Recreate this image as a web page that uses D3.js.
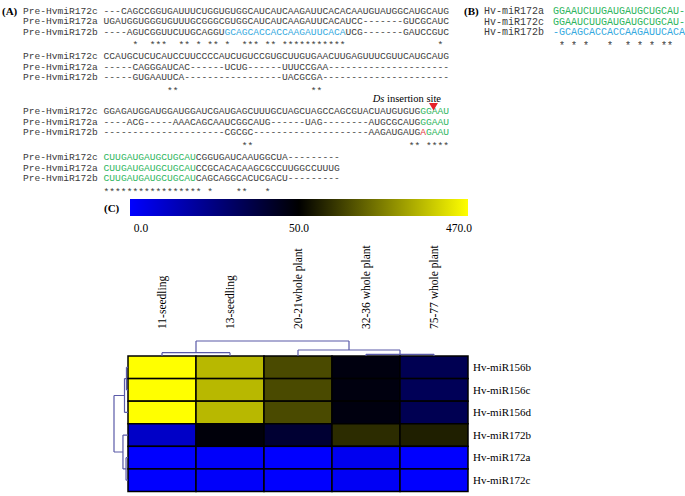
<!DOCTYPE html>
<html>
<head>
<meta charset="utf-8">
<script src="https://cdn.jsdelivr.net/npm/d3@7"></script>
<style>
  body { margin: 0; background: #fff; }
</style>
</head>
<body>
<svg id="fig"></svg>
<script>
// ---- (A) precursor alignment ----
const preLabels = ["Pre-HvmiR172c", "Pre-HvmiR172a", "Pre-HvmiR172b"];
// each row is a list of [text, colour key]  k = plain, b = blue, g = green, r = red
const preBlock1 = [
  [["---CAGCCGGUGAUUUCUGGUGUGGCAUCAUCAAGAUUCACACAAUGUAUGGCAUGCAUG", "k"]],
  [["UGAUGGUGGGUGUUUGCGGGCGUGGCAUCAUCAAGAUUCACAUCC-------GUCGCAUC", "k"]],
  [["----AGUCGGUUCUUGCAGGU", "k"], ["GCAGCACCACCAAGAUUCACA", "b"], ["UCG-------GAUCCGUC", "k"]]
];
const preBlock2 = [
  [["CCAUGCUCUCAUCCUUCCCCAUCUGUCCGUGCUUGUGAACUUGAGUUUCGUUCAUGCAUG", "k"]],
  [["-----CAGGGAUCAC------UCUG------UUUCCGAA---------------------", "k"]],
  [["-----GUGAAUUCA-----------------UACGCGA----------------------", "k"]]
];
const preBlock3 = [
  [["GGAGAUGGAUGGAUGGAUCGAUGAGCUUUGCUAGCUAGCCAGCGUACUAUGUGUG", "k"], ["GGAAU", "g"]],
  [["----ACG-----AAACAGCAAUCGGCAUG------UAG--------AUGCGCAUG", "k"], ["GGAAU", "g"]],
  [["---------------------CGCGC--------------------AAGAUGAUG", "k"], ["A", "r"], ["GAAU", "g"]]
];
const preBlock4 = [
  [["CUUGAUGAUGCUGCAU", "g"], ["CGGUGAUCAAUGGCUA---------", "k"]],
  [["CUUGAUGAUGCUGCAU", "g"], ["CCGCACACAAGCGCCUUGGCCUUUG", "k"]],
  [["CUUGAUGAUGCUGCAU", "g"], ["CAGCAGGCACUCGACU---------", "k"]]
];
const preBlocks = [preBlock1, preBlock2, preBlock3, preBlock4];
const preStars = [
  "     *  ***  ** * ** *  *** ** ***********                *",
  "           **                       **",
  "                        **                           ** ****",
  "***************** *    **   *"
];
const insertionLabel = ["Ds", " insertion site"];

// ---- (B) mature miRNA alignment ----
const matLabels = ["Hv-miR172a", "Hv-miR172c", "Hv-miR172b"];
const matSeqs = [
  [["GGAAUCUUGAUGAUGCUGCAU-", "g"]],
  [["GGAAUCUUGAUGAUGCUGCAU-", "g"]],
  [["-GCAGCACCACCAAGAUUCACA", "b"]]
];
const matStars = " * * *   *  * * * **";

// ---- (C) expression heatmap ----
const stages = ["11-seedling", "13-seedling", "20-21whole plant", "32-36 whole plant", "75-77 whole plant"];
const mirnas = ["Hv-miR156b", "Hv-miR156c", "Hv-miR156d", "Hv-miR172b", "Hv-miR172a", "Hv-miR172c"];
const expr = [
  [470, 353, 172, 47, 34],
  [470, 353, 172, 47, 33],
  [470, 353, 172, 47, 34],
  [11, 48, 40, 122, 101],
  [0, 1, 0, 3, 0],
  [0, 1, 0, 2, 0]
];
const colorDomain = [0, 50, 470];
const colorRange = ["#0000ff", "#000000", "#ffff00"];
const colorTicks = ["0.0", "50.0", "470.0"];

// dendrograms: h = merge height (0..1), leaves are names
const colTree = { h: 1, children: [
  { h: 0.22, children: ["11-seedling", "13-seedling"] },
  { h: 0.4, children: ["20-21whole plant",
    { h: 0.11, children: ["32-36 whole plant", "75-77 whole plant"] }] }
] };
const rowTree = { h: 1, children: [
  { h: 0.25, children: [{ h: 0.11, children: ["Hv-miR156b", "Hv-miR156c"] }, "Hv-miR156d"] },
  { h: 0.36, children: ["Hv-miR172b", { h: 0.14, children: ["Hv-miR172a", "Hv-miR172c"] }] }
] };

const W = 685, H = 496;
const seqColor = { k: "#3c3c3c", b: "#33a9e0", g: "#2db55d", r: "#e6323c" };
const mono = "'Liberation Mono', 'Courier New', monospace";
const serif = "'Liberation Serif', 'Times New Roman', serif";

const svg = d3.select("#fig").attr("width", W).attr("height", H)
  .style("font-family", serif);

function seqText(g, x, y, segs, size) {
  const t = g.append("text")
    .attr("x", x).attr("y", y).attr("dy", "0.35em")
    .style("font-family", mono).style("font-size", size + "px")
    .style("white-space", "pre");
  segs.forEach(([s, c]) => t.append("tspan").attr("fill", seqColor[c]).text(s));
  return t;
}

// ---------- panel A ----------
const gA = svg.append("g");
gA.append("text").attr("x", 2).attr("y", 11).attr("dy", "0.35em")
  .style("font-size", "11px").style("font-weight", "bold").text("(A)");

const blockY = [10.5, 56, 111, 157];
const linePitch = 10.5;
preBlocks.forEach((block, bi) => {
  block.forEach((row, ri) => {
    seqText(gA, 23, blockY[bi] + ri * linePitch, [[preLabels[ri] + " ", "k"], ...row], 9.6);
  });
  seqText(gA, 23, blockY[bi] + 3 * linePitch + 3, [["              " + preStars[bi], "k"]], 9.6);
});

// Ds insertion site marker
gA.append("text").attr("x", 441).attr("y", 98.5).attr("dy", "0.35em")
  .attr("text-anchor", "end").style("font-size", "10.5px")
  .call(t => {
    t.append("tspan").style("font-style", "italic").text(insertionLabel[0]);
    t.append("tspan").text(insertionLabel[1]);
  });
gA.append("path")
  .attr("d", d3.symbol(d3.symbolTriangle, 34)())
  .attr("transform", "translate(433.5,105.5) rotate(180)")
  .attr("fill", "#e6202a");

// ---------- panel B ----------
const gB = svg.append("g");
gB.append("text").attr("x", 464).attr("y", 11).attr("dy", "0.35em")
  .style("font-size", "11px").style("font-weight", "bold").text("(B)");
matLabels.forEach((lab, i) => {
  seqText(gB, 484, 10.5 + i * linePitch, [[lab, "k"]], 10);
  seqText(gB, 553, 10.5 + i * linePitch, matSeqs[i], 10);
});
seqText(gB, 553, 10.5 + 3 * linePitch + 3, [[matStars, "k"]], 10);

// ---------- panel C ----------
const gC = svg.append("g");
gC.append("text").attr("x", 104).attr("y", 208).attr("dy", "0.35em")
  .style("font-size", "11px").style("font-weight", "bold").text("(C)");

const color = d3.scaleLinear().domain(colorDomain).range(colorRange);
const barX = d3.scaleLinear().domain(colorDomain).range([130, 299, 468]);
const barLab = d3.scaleLinear().domain(colorDomain).range([141, 299, 459]);

const grad = svg.append("defs").append("linearGradient").attr("id", "cbar");
colorDomain.forEach(v => {
  grad.append("stop")
    .attr("offset", (barX(v) - 130) / (468 - 130))
    .attr("stop-color", color(v));
});
gC.append("rect").attr("x", 130).attr("y", 199).attr("width", 338).attr("height", 17)
  .attr("fill", "url(#cbar)");
gC.selectAll(".cbar-label").data(colorDomain).join("text")
  .attr("class", "cbar-label")
  .attr("x", d => barLab(d)).attr("y", 228).attr("dy", "0.35em")
  .attr("text-anchor", "middle").style("font-size", "11.5px")
  .text((d, i) => colorTicks[i]);

const x = d3.scaleBand().domain(stages).range([128, 468]);
const y = d3.scaleBand().domain(mirnas).range([356, 491.5]);

const cells = mirnas.flatMap((m, i) => stages.map((s, j) => ({ m, s, v: expr[i][j] })));
gC.selectAll(".cell").data(cells).join("rect")
  .attr("class", "cell")
  .attr("x", d => x(d.s)).attr("y", d => y(d.m))
  .attr("width", x.bandwidth()).attr("height", y.bandwidth())
  .attr("fill", d => color(d.v))
  .attr("stroke", "#000").attr("stroke-width", 1.5);

// column labels, rotated
gC.selectAll(".col-label").data(stages).join("text")
  .attr("class", "col-label")
  .attr("transform", d => `translate(${x(d) + x.bandwidth() / 2 + 4},329) rotate(-90)`)
  .style("font-size", "11.5px")
  .text(d => d);

// row labels
gC.selectAll(".row-label").data(mirnas).join("text")
  .attr("class", "row-label")
  .attr("x", 473).attr("y", d => y(d) + y.bandwidth() / 2).attr("dy", "0.35em")
  .style("font-size", "11px")
  .text(d => d);

// dendrograms
const dendroColor = "#5a5aa8";
function drawTree(node, posOf, hScale, horizontal, g) {
  if (typeof node === "string") return { p: posOf(node), h: 0 };
  const kids = node.children.map(c => drawTree(c, posOf, hScale, horizontal, g));
  const p = d3.mean(kids, k => k.p);
  const hp = hScale(node.h);
  const path = d3.path();
  kids.forEach(k => {
    if (horizontal) { path.moveTo(k.p, hScale(k.h)); path.lineTo(k.p, hp); }
    else { path.moveTo(hScale(k.h), k.p); path.lineTo(hp, k.p); }
  });
  const lo = d3.min(kids, k => k.p), hi = d3.max(kids, k => k.p);
  if (horizontal) { path.moveTo(lo, hp); path.lineTo(hi, hp); }
  else { path.moveTo(hp, lo); path.lineTo(hp, hi); }
  g.append("path").attr("d", path.toString())
    .attr("fill", "none").attr("stroke", dendroColor).attr("stroke-width", 1.2);
  return { p, h: node.h };
}
drawTree(colTree, d => x(d) + x.bandwidth() / 2, d3.scaleLinear().domain([0, 1]).range([356, 341]), true, gC);
drawTree(rowTree, d => y(d) + y.bandwidth() / 2, d3.scaleLinear().domain([0, 1]).range([128, 114]), false, gC);
</script>
</body>
</html>
